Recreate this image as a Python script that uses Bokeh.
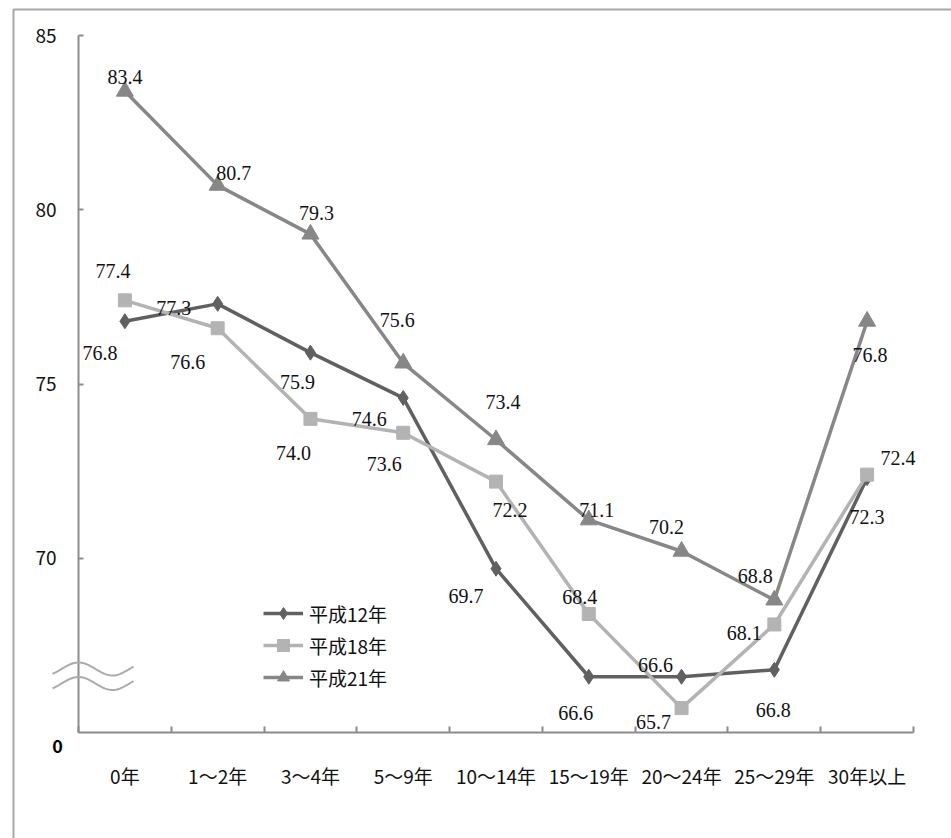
import numpy as np
from bokeh.plotting import figure
from bokeh.models import (ColumnDataSource, Range1d, FixedTicker, Legend, LegendItem,
                          Label, LabelSet, BoxAnnotation, PolyAnnotation, LinearAxis)
from bokeh.embed import file_html
from bokeh.resources import INLINE

# ---- data -------------------------------------------------------------
categories = ["0年", "1～2年", "3～4年", "5～9年", "10～14年",
              "15～19年", "20～24年", "25～29年", "30年以上"]
series_names = ["平成12年", "平成18年", "平成21年"]
h12 = [76.8, 77.3, 75.9, 74.6, 69.7, 66.6, 66.6, 66.8, 72.3]
h18 = [77.4, 76.6, 74.0, 73.6, 72.2, 68.4, 65.7, 68.1, 72.4]
h21 = [83.4, 80.7, 79.3, 75.6, 73.4, 71.1, 70.2, 68.8, 76.8]
y_ticks = [70, 75, 80, 85]
y_floor = 65          # bottom of the broken axis
y_floor_label = "0"

# label placement around each marker (pixels, +x right, +y down)
h12_dx = [-25, -44, -13, -34, -30, -13, -26, -1, 0]
h12_dy = [32, 4, 29, 21, 27, 36, -12, 40, 39]
h18_dx = [-12, -30, -17, -19, 14, -9, -28, -30, 31]
h18_dy = [-29, 34, 34, 31, 28, -17, 14, 9, -17]
h21_dx = [0, 16, 6, -6, 7, 8, -15, -19, 3]
h21_dy = [-14, -12, -21, -43, -38, -10, -24, -24, 34]

# ---- layout -----------------------------------------------------------
W, H = 951, 838
AX_L, AX_R, AX_T, AX_B = 78, 913, 35, 732     # axis box inside the canvas
FONT = "Noto Sans CJK JP"
AXIS = "#8c8c8c"
TXT = "#111111"

n = len(categories)
xpos = list(range(n))                      # category centres
x_lo, x_hi = -0.5, n - 0.5                 # category boundaries
y_top = max(y_ticks)
px_per_x = (AX_R - AX_L) / (x_hi - x_lo)
px_per_y = (AX_B - AX_T) / (y_top - y_floor)

x_range = Range1d(x_lo - AX_L / px_per_x, x_hi + (W - AX_R) / px_per_x)
y_range = Range1d(y_floor - (H - AX_B) / px_per_y, y_top + AX_T / px_per_y)

p = figure(width=W, height=H, x_range=x_range, y_range=y_range,
           output_backend="svg", toolbar_location=None,
           x_axis_type=None, y_axis_type=None,
           min_border_left=0, min_border_right=0, min_border_top=0, min_border_bottom=0)
p.outline_line_color = None
p.grid.visible = False
p.background_fill_color = "white"
p.border_fill_color = "white"

# y axis (broken at the bottom)
yax = LinearAxis(fixed_location=x_lo, bounds=(y_floor, y_top),
                 ticker=FixedTicker(ticks=y_ticks))
yax.axis_line_color = AXIS
yax.axis_line_width = 2
yax.major_tick_in = 5
yax.major_tick_out = 0
yax.major_tick_line_color = AXIS
yax.major_tick_line_width = 2
yax.minor_tick_line_color = None
yax.major_label_standoff = 22
yax.major_label_text_font = FONT
yax.major_label_text_font_size = "19px"
yax.major_label_text_color = TXT
p.add_layout(yax, "left")

# x axis line with ticks on the category boundaries
xax = LinearAxis(fixed_location=y_floor, bounds=(x_lo, x_hi),
                 ticker=FixedTicker(ticks=[x_lo + i for i in range(n + 1)]))
xax.axis_line_color = AXIS
xax.axis_line_width = 2
xax.major_tick_in = 6
xax.major_tick_out = 0
xax.major_tick_line_color = AXIS
xax.major_tick_line_width = 2
xax.minor_tick_line_color = None
xax.major_label_text_alpha = 0
p.add_layout(xax, "below")

# category names under the centres
xlab = LinearAxis(fixed_location=y_floor, ticker=FixedTicker(ticks=xpos))
xlab.axis_line_color = None
xlab.major_tick_line_color = None
xlab.minor_tick_line_color = None
xlab.major_tick_in = 0
xlab.major_tick_out = 0
xlab.major_label_standoff = 29
xlab.major_label_overrides = {i: c for i, c in zip(xpos, categories)}
xlab.major_label_text_font = FONT
xlab.major_label_text_font_size = "19px"
xlab.major_label_text_color = TXT
p.add_layout(xlab, "below")

# "0" at the foot of the broken axis
p.add_layout(Label(x=x_lo - 21 / px_per_x, y=y_floor, y_offset=-13, text=y_floor_label,
                   text_align="center", text_baseline="middle",
                   text_font=FONT, text_font_size="18px", text_font_style="bold",
                   text_color="black"))

# axis-break waves
def wave(center_px):
    xs_px = np.linspace(-26, 55, 60)
    ys_px = center_px + 6.5 * np.cos(2 * np.pi * xs_px / 68)
    xs = list(x_lo + xs_px / px_per_x)
    ys = list(y_floor + ys_px / px_per_y)
    return xs + xs[::-1], ys + ys[::-1]

for c in (63.5, 49.0):
    wx, wy = wave(c)
    p.add_layout(PolyAnnotation(xs=wx, ys=wy, fill_alpha=0, line_color="#ababab",
                                line_alpha=1, line_width=2))

# outer frame
p.add_layout(BoxAnnotation(left=13, right=W + 20, top=9, bottom=H + 20,
                           left_units="canvas", right_units="canvas",
                           top_units="canvas", bottom_units="canvas",
                           fill_alpha=0, line_color="#a8a8a8", line_alpha=1,
                           line_width=2))

# ---- series -----------------------------------------------------------
styles = [
    (h12, h12_dx, h12_dy, "#606060", "diamond", 15),
    (h18, h18_dx, h18_dy, "#b3b3b3", "square", 13),
    (h21, h21_dx, h21_dy, "#878787", "triangle", 17),
]
items = []
for name, (vals, dx, dy, col, mk, sz) in zip(series_names, styles):
    src = ColumnDataSource(dict(x=xpos, y=vals,
                                txt=[f"{v:.1f}" for v in vals],
                                dx=dx, ndy=[-d for d in dy]))
    ln = p.line("x", "y", source=src, line_color=col, line_width=3.5)
    sc = p.scatter("x", "y", source=src, marker=mk, size=sz,
                   fill_color=col, line_color=col)
    items.append(LegendItem(label=name, renderers=[ln, sc]))
    p.add_layout(LabelSet(x="x", y="y", text="txt", source=src,
                          x_offset="dx", y_offset="ndy",
                          text_align="center", text_baseline="middle",
                          text_font=FONT, text_font_size="20px", text_color=TXT))

legend = Legend(items=items, location=(263, H - 692), orientation="vertical",
                glyph_width=40, glyph_height=30, spacing=2, padding=0, margin=0,
                label_standoff=6, border_line_color=None, background_fill_alpha=0,
                label_text_font=FONT, label_text_font_size="19px",
                label_text_color=TXT)
p.add_layout(legend, "center")

open("out.html", "w").write(file_html(p, INLINE))
